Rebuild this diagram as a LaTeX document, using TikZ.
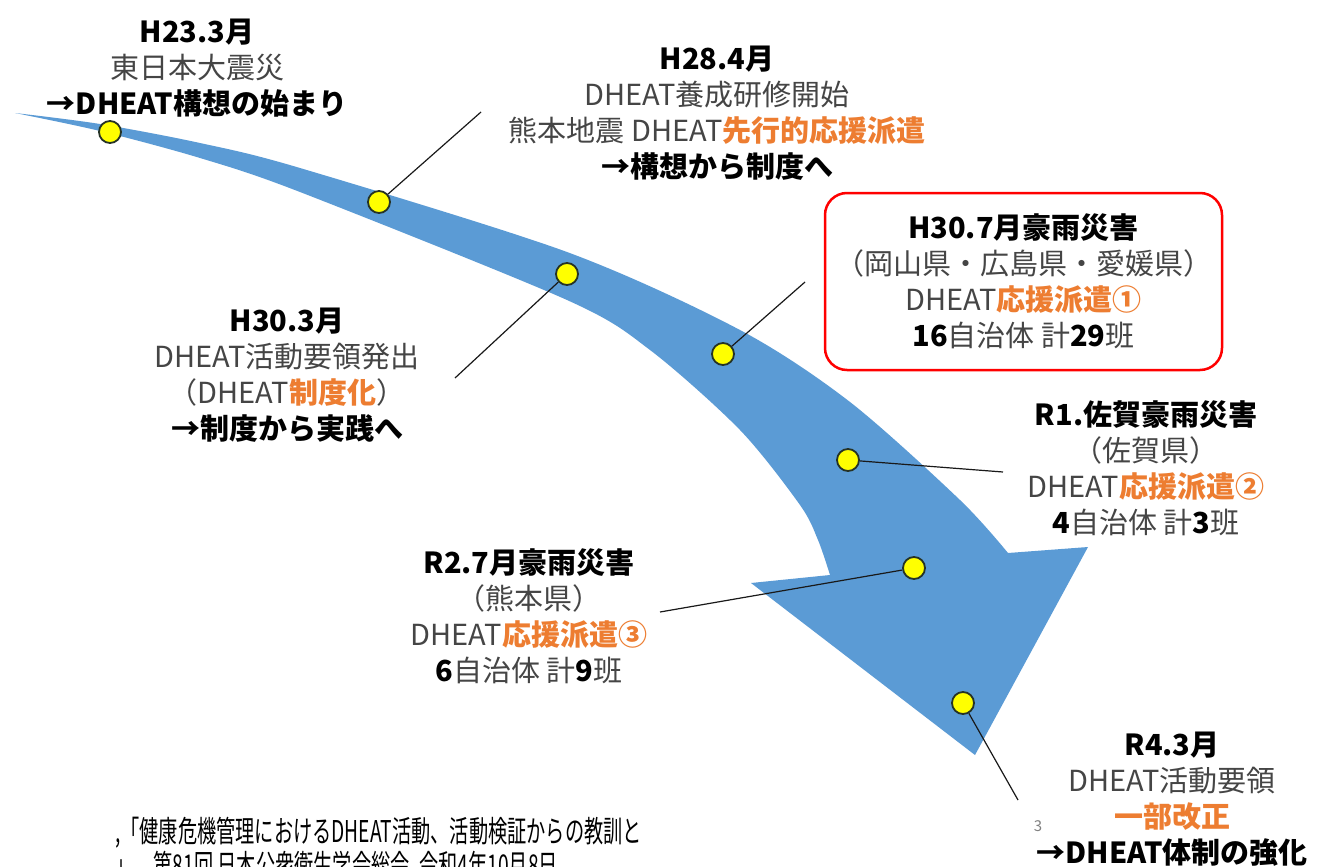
\documentclass[tikz,border=0pt]{standalone}
\usepackage{fontspec}
\setmainfont{Noto Sans CJK JP}
\newfontfamily\jpcond[FakeStretch=0.64]{Noto Sans CJK JP}
\definecolor{bandblue}{HTML}{5B9BD5}
\definecolor{txtgray}{HTML}{454545}
\definecolor{orng}{HTML}{ED7D31}
\definecolor{dotyellow}{HTML}{FFFF00}
\definecolor{dotedge}{HTML}{263326}
\newcommand\hdr[1]{{\bfseries\color{black}#1}}
\newcommand\orn[1]{{\bfseries\color{orng}#1}}
\begin{document}
\begin{tikzpicture}[x=1pt,y=-1pt,
  blk/.style={align=center, inner sep=0pt, text=txtgray, font=\fontsize{29}{36}\selectfont},
  dotnode/.style={circle, fill=dotyellow, draw=dotedge, line width=1.8pt, minimum size=22pt, inner sep=0pt},
  lead/.style={draw=black!90, line width=1.2pt},
  redbox/.style={draw=red, line width=2.5pt, rounded corners=22pt, minimum width=397pt, minimum height=177pt},
  foot/.style={anchor=west, inner sep=0pt, text=black, font=\jpcond\fontsize{30}{34}\selectfont},
]
\useasboundingbox (0,0) rectangle (1322,867);
\fill[white] (0,0) rectangle (1322,867);
% band arrow
\fill[bandblue] plot[smooth] coordinates {(15,113) (100,124) (200,143) (300,168) (567,252) (740,330) (850,402) (960,500) (1008,553)}
  -- (1088,547) -- (975,755) -- (751,583) -- (830,575)
  -- plot[smooth] coordinates {(830,575) (818,540) (800,505) (740,430) (650,350) (567,300) (300,192) (200,158) (100,131) (15,113)} -- cycle;
% dots
\node[dotnode] (d1) at (110,132) {};
\node[dotnode] (d2) at (379,202) {};
\node[dotnode] (d3) at (567,274) {};
\node[dotnode] (d4) at (723,354) {};
\node[dotnode] (d5) at (848,460) {};
\node[dotnode] (d6) at (914,568) {};
\node[dotnode] (d7) at (963,703) {};
% lead ends
\coordinate (e2) at (481,112);
\coordinate (e3) at (455,378);
\coordinate (e4) at (805,282);
\coordinate (e5) at (1003,472);
\coordinate (e6) at (660,612);
\coordinate (e7) at (1018,800);
\draw[lead] (d2) -- (e2);
\draw[lead] (d3) -- (e3);
\draw[lead] (d4) -- (e4);
\draw[lead] (d5) -- (e5);
\draw[lead] (d6) -- (e6);
\draw[lead] (d7) -- (e7);
% text blocks
\node[blk] (t1) at (197,68) {\hdr{H23.3月}\\東日本大震災\\\hdr{→DHEAT構想の始まり}};
\node[blk] (t2) at (717,113.5) {\hdr{H28.4月}\\DHEAT養成研修開始\\熊本地震 DHEAT\orn{先行的応援派遣}\\\hdr{→構想から制度へ}};
\node[blk, redbox] (t3) at (1023.5,281.5) {\hdr{H30.7月豪雨災害}\\（岡山県・広島県・愛媛県）\\DHEAT\orn{応援派遣①}\\\hdr{16}自治体 計\hdr{29}班};
\node[blk] (t4) at (287,375) {\hdr{H30.3月}\\DHEAT活動要領発出\\（DHEAT\orn{制度化}）\\\hdr{→制度から実践へ}};
\node[blk] (t5) at (1146,468.5) {\hdr{R1.佐賀豪雨災害}\\（佐賀県）\\DHEAT\orn{応援派遣②}\\\hdr{4}自治体 計\hdr{3}班};
\node[blk] (t6) at (529,616) {\hdr{R2.7月豪雨災害}\\（熊本県）\\DHEAT\orn{応援派遣③}\\\hdr{6}自治体 計\hdr{9}班};
\node[blk] (t7) at (1172,799) {\hdr{R4.3月}\\DHEAT活動要領\\\orn{一部改正}\\\hdr{→DHEAT体制の強化}};
\node[inner sep=0pt, text=gray, font=\fontsize{15}{18}\selectfont] (pg) at (1038,826) {3};
% footnote
\node[foot] (f1) at (115,833) {,「健康危機管理におけるDHEAT活動、活動検証からの教訓と};
\node[foot] (f2) at (115,867) {」、第81回 日本公衆衛生学会総会, 令和4年10月8日};
\end{tikzpicture}
\end{document}
